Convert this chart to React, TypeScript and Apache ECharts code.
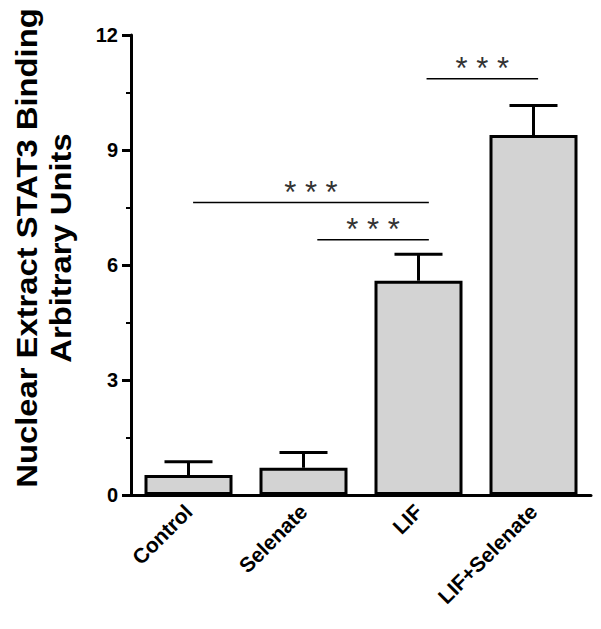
import React, { useEffect, useRef } from "react";
import * as echarts from "echarts";

const categories = ["Control", "Selenate", "LIF", "LIF+Selenate"];
const means = [0.52, 0.71, 5.59, 9.39];
const errors = [0.35, 0.4, 0.69, 0.77];
const yTicks = [0, 3, 6, 9, 12];

// significance brackets (positions in category units)
const sigFrom = [2.07, 0.04, 1.12];
const sigTo = [3.04, 2.09, 2.09];
const sigY = [10.86, 7.63, 6.66];
const sigLabel = ["* * *", "* * *", "* * *"];

const titleLines = ["Nuclear Extract STAT3 Binding", "Arbitrary Units"];

const FONT = "'Liberation Sans', Arial, Helvetica, sans-serif";

export default function App() {
  const ref = useRef<HTMLDivElement | null>(null);
  useEffect(() => {
    document.body.style.margin = "0";
    if (!ref.current) return;
    const chart = echarts.init(ref.current, null, { renderer: "svg" });
    const option: any = {
      animation: false,
      backgroundColor: "#ffffff",
      grid: { left: 131, top: 35, width: 460, height: 460, containLabel: false },
      xAxis: {
        type: "category",
        data: categories,
        axisLine: { show: true, lineStyle: { color: "#000", width: 3 } },
        axisTick: { show: false },
        axisLabel: {
          interval: 0,
          rotate: 45,
          margin: 13,
          color: "#000",
          fontFamily: FONT,
          fontWeight: "bold",
          fontSize: 21,
        },
        splitLine: { show: false },
      },
      yAxis: {
        type: "value",
        min: yTicks[0],
        max: yTicks[yTicks.length - 1],
        interval: 3,
        axisLine: { show: true, lineStyle: { color: "#000", width: 3 } },
        axisTick: { show: true, length: 9, lineStyle: { color: "#000", width: 3 } },
        minorTick: { show: true, splitNumber: 2, length: 5, lineStyle: { color: "#000", width: 2 } },
        axisLabel: {
          margin: 13,
          color: "#000",
          fontFamily: FONT,
          fontWeight: "bold",
          fontSize: 20,
        },
        splitLine: { show: false },
      },
      graphic: titleLines.map((t, i) => ({
        type: "text",
        x: i === 0 ? 27 : 61,
        y: 248,
        rotation: Math.PI / 2,
        scaleX: 1.13,
        style: {
          text: t,
          fontFamily: FONT,
          fontWeight: "bold",
          fontSize: 29,
          fill: "#000",
          align: "center",
          verticalAlign: "middle",
        },
      })),
      series: [
        {
          type: "bar",
          data: means,
          barWidth: 88,
          itemStyle: { color: "#d3d3d3", borderColor: "#000", borderWidth: 3 },
          z: 2,
        },
        {
          type: "custom",
          data: categories.map((c, i) => [i, means[i], means[i] + errors[i]]),
          encode: { x: 0, y: [1, 2] },
          z: 3,
          renderItem: (params: any, api: any) => {
            const p0 = api.coord([api.value(0), api.value(1)]);
            const p1 = api.coord([api.value(0), api.value(2)]);
            const half = 24;
            return {
              type: "group",
              children: [
                {
                  type: "line",
                  shape: { x1: p0[0], y1: p0[1], x2: p1[0], y2: p1[1] },
                  style: { stroke: "#000", lineWidth: 3 },
                },
                {
                  type: "line",
                  shape: { x1: p1[0] - half, y1: p1[1], x2: p1[0] + half, y2: p1[1] },
                  style: { stroke: "#000", lineWidth: 3 },
                },
              ],
            };
          },
        },
        {
          type: "custom",
          data: sigY.map((y, i) => [0, y]),
          encode: { x: 0, y: 1 },
          z: 4,
          renderItem: (params: any, api: any) => {
            const i = params.dataIndex;
            const base = api.coord([0, sigY[i]]);
            const band = api.size([1, 0])[0];
            const x1 = base[0] + sigFrom[i] * band;
            const x2 = base[0] + sigTo[i] * band;
            const y = base[1];
            return {
              type: "group",
              children: [
                {
                  type: "line",
                  shape: { x1, y1: y, x2, y2: y },
                  style: { stroke: "#000", lineWidth: 1.5 },
                },
                {
                  type: "text",
                  style: {
                    text: sigLabel[i],
                    x: (x1 + x2) / 2,
                    y: y - 10,
                    align: "center",
                    verticalAlign: "middle",
                    fontFamily: FONT,
                    fontSize: 31,
                    fill: "#333",
                  },
                },
              ],
            };
          },
        },
      ],
    };
    chart.setOption(option);
    return () => {
      chart.dispose();
    };
  }, []);
  return <div ref={ref} style={{ width: 601, height: 629 }} />;
}
